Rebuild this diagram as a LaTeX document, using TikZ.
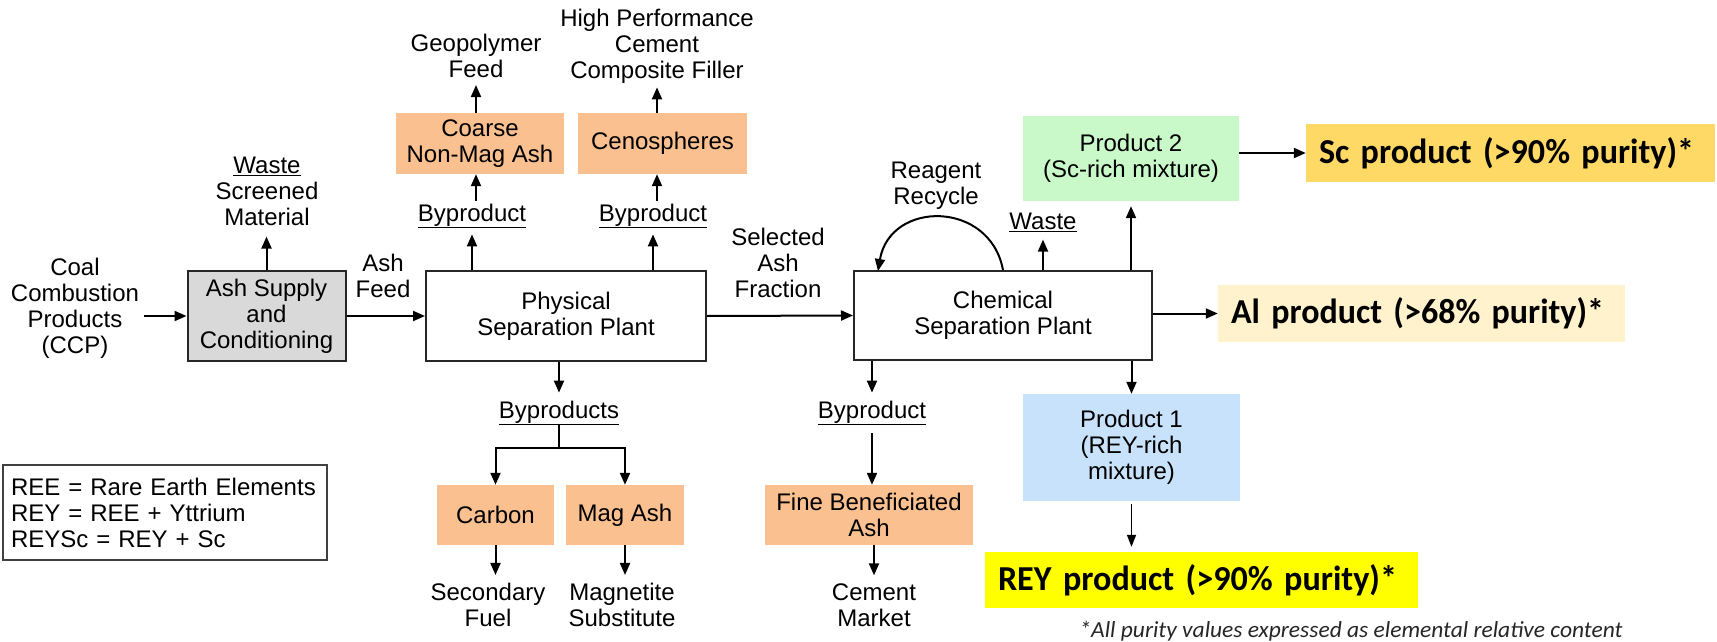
\documentclass[tikz,border=0pt]{standalone}
\usepackage{fontspec}
\usepackage{graphicx}
\setmainfont{Liberation Sans}
\newfontfamily\calibri{Carlito}
\usetikzlibrary{arrows.meta}
\definecolor{graybox}{HTML}{D9D9D9}
\definecolor{orng}{HTML}{FAC090}
\definecolor{grn}{HTML}{C9F8C9}
\definecolor{blu}{HTML}{C8E2FC}
\definecolor{gold}{HTML}{FFD966}
\definecolor{cream}{HTML}{FFF2CC}
\definecolor{yel}{HTML}{FFFF00}
\begin{document}
\begin{tikzpicture}[x=1pt,y=-1pt,
  every node/.style={font=\fontsize{24}{26}\selectfont, inner sep=0pt, align=center},
  arr/.style={line width=2pt, -{Triangle[length=12pt,width=10pt]}},
  thinarr/.style={line width=1.6pt, -{Triangle[length=12pt,width=9pt]}},
  ln/.style={line width=2pt},
  whitebox/.style={draw=black!85, line width=2pt, fill=white},
  graybx/.style={draw=black!85, line width=2pt, fill=graybox},
  orbox/.style={fill=orng},
  bigtxt/.style={font=\calibri\bfseries\fontsize{35}{40}\selectfont, align=left, inner xsep=13pt},
]
\useasboundingbox (0,0) rectangle (1717,642);

% nodes
\node (ccp) at (75,308) {Coal\\Combustion\\Products\\(CCP)};
\node[graybx, minimum width=158pt, minimum height=90pt] (ash) at (266.5,316) {Ash Supply\\and\\Conditioning};
\node (waste1) at (267,191) {\underline{Waste}\\Screened\\Material};
\node (ashfeed) at (383,276) {Ash\\Feed};
\node[whitebox, minimum width=280pt, minimum height=90pt] (phys) at (566,316) {Physical\\Separation Plant};
\node (byp1) at (472,216) {\underline{Byproduct}};
\node (byp2) at (653,216) {\underline{Byproduct}};
\node[orbox, minimum width=168pt, minimum height=61pt] (coarse) at (480,143.5) {Coarse\\Non-Mag Ash};
\node[orbox, minimum width=169pt, minimum height=61pt] (ceno) at (662.5,143.5) {Cenospheres};
\node (geo) at (476,56) {Geopolymer\\Feed};
\node (hp) at (657,46) {High Performance\\Cement\\Composite Filler};
\node (sel) at (778,263) {Selected\\Ash\\Fraction};
\node[whitebox, minimum width=298pt, minimum height=89pt] (chem) at (1003,315.5) {Chemical\\Separation Plant};
\node (reagent) at (936,186) {Reagent\\Recycle};
\node (waste2) at (1043,222) {\underline{Waste}};
\node[fill=grn, minimum width=216pt, minimum height=85pt] (p2) at (1131,158.5) {Product 2\\(Sc-rich mixture)};
\node[fill=gold, bigtxt, text width=383pt, minimum height=58pt] (sc) at (1510.5,153) {\resizebox{375pt}{\height}{Sc product (>90\% purity)*}};
\node[fill=cream, bigtxt, text width=381pt, minimum height=57pt] (al) at (1421.5,313.5) {\resizebox{373pt}{\height}{Al product (>68\% purity)*}};
\node[fill=blu, minimum width=217pt, minimum height=107pt] (p1) at (1131.5,447.5) {Product 1\\(REY-rich\\mixture)};
\node[fill=yel, bigtxt, text width=407pt, minimum height=56pt] (rey) at (1201.5,580) {\resizebox{399pt}{\height}{REY product (>90\% purity)*}};
\node (byps) at (559,413) {\underline{Byproducts}};
\node[orbox, minimum width=117pt, minimum height=60pt] (carbon) at (495.5,515) {Carbon};
\node[orbox, minimum width=118pt, minimum height=60pt] (magash) at (625,515) {Mag Ash};
\node (secfuel) at (488,605) {Secondary\\Fuel};
\node (magsub) at (622,605) {Magnetite\\Substitute};
\node (byp3) at (872,413) {\underline{Byproduct}};
\node[orbox, minimum width=208pt, minimum height=60pt] (fine) at (869,515) {Fine Beneficiated\\Ash};
\node (cement) at (874,605) {Cement\\Market};
\node[draw=black!75, line width=1.5pt, text width=308pt, inner xsep=8pt, minimum height=95pt, align=left] (legend) at (165,512.5) {REE = Rare Earth Elements\\REY = REE + Yttrium\\REYSc = REY + Sc};
\node[font=\calibri\itshape\fontsize{23}{26}\selectfont, text=black!85] (foot) at (1351,631) {\resizebox{543pt}{\height}{*All purity values expressed as elemental relative content}};

% coordinates
\coordinate (rin) at (878,271);
\coordinate (split) at (559,448);

% connectors
\draw[arr] ([xshift=5pt]ccp.east |- ash.west) -- (ash.west);
\draw[arr, shorten >=11pt] (ash.north) -- (ash.north |- waste1.south);
\draw[arr] (ash.east) -- (phys.west);
\draw[arr, shorten >=6pt] (byp1.south |- phys.north) -- (byp1.south);
\draw[arr, shorten <=3pt] (byp1.north -| geo) -- (coarse.south -| geo);
\draw[arr, shorten >=7pt] (coarse.north -| geo) -- (geo.south);
\draw[arr, shorten >=6pt] (byp2.south |- phys.north) -- (byp2.south);
\draw[arr, shorten <=3pt] (byp2.north -| hp) -- (ceno.south -| hp);
\draw[arr, shorten >=4pt] (ceno.north -| hp) -- (hp.south);
\draw[arr] (phys.east) -- (chem.west);
\draw[arr] (chem.north) .. controls (990,200) and (890,200) .. (rin);
\draw[arr, shorten >=8pt] (chem.north -| waste2) -- (waste2.south);
\draw[arr, shorten >=5pt] (p2.south |- chem.north) -- (p2.south);
\draw[arr] (p2.east |- sc.west) -- (sc.west);
\draw[arr] (chem.east |- al.west) -- (al.west);
\draw[arr, shorten >=8pt] (byp3.north |- chem.south) -- (byp3.north);
\draw[arr, shorten <=8pt] (byp3.south) -- (fine.north -| byp3);
\draw[arr, shorten >=8pt] (fine.south -| cement) -- (cement.north);
\draw[arr] (p1.north |- chem.south) -- (p1.north);
\draw[thinarr, shorten <=3pt, shorten >=5pt] (p1.south) -- (rey.north -| p1.south);
\draw[arr, shorten >=8pt] (byps.north |- phys.south) -- (byps.north);
\draw[ln] (byps.south) -- (split);
\draw[arr] (split) -| (carbon.north);
\draw[arr] (split) -| (magash.north);
\draw[arr, shorten >=8pt] (carbon.south) -- (carbon.south |- secfuel.north);
\draw[arr, shorten >=8pt] (magash.south) -- (magash.south |- magsub.north);
\end{tikzpicture}
\end{document}
